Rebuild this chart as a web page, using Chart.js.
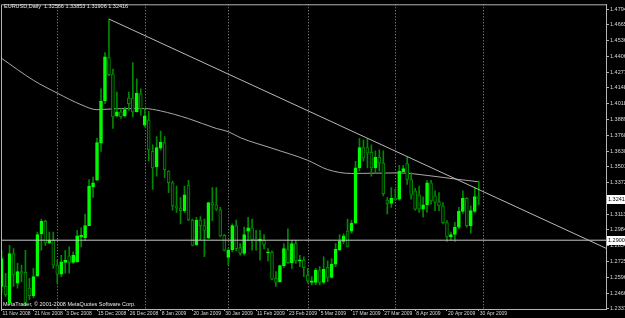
<!DOCTYPE html>
<html>
<head>
<meta charset="utf-8">
<script src="https://cdn.jsdelivr.net/npm/chart.js@4.4.1/dist/chart.umd.min.js"></script>
<style>
  html, body { margin: 0; padding: 0; background: #000; }
  #wrap { width: 625px; height: 318px; position: relative; }
</style>
</head>
<body>
<div id="wrap"><canvas id="eurusd"></canvas></div>
<script>
// EURUSD daily, 11 Nov 2008 .. 30 Apr 2009
const dateLabels = ['11 Nov 2008', '21 Nov 2008', '3 Dec 2008', '15 Dec 2008', '26 Dec 2008', '8 Jan 2009',
  '20 Jan 2009', '30 Jan 2009', '11 Feb 2009', '23 Feb 2009', '5 Mar 2009', '17 Mar 2009', '27 Mar 2009',
  '8 Apr 2009', '20 Apr 2009', '30 Apr 2009'];

const opens = [1.2521, 1.2521, 1.2386, 1.2791, 1.2548, 1.2642, 1.2637, 1.2507, 1.2445, 1.2610,
  1.2953, 1.3055, 1.2880, 1.2899, 1.2696, 1.2621, 1.2718, 1.2772, 1.2718, 1.2723,
  1.2926, 1.2920, 1.3020, 1.3339, 1.3393, 1.3695, 1.4041, 1.4397, 1.4262, 1.3919,
  1.3952, 1.3919, 1.4065, 1.4065, 1.3952, 1.4100, 1.3844, 1.3884, 1.3628, 1.3501,
  1.3655, 1.3701, 1.3466, 1.3371, 1.3182, 1.3163, 1.3142, 1.3352, 1.3066, 1.2864,
  1.3066, 1.3020, 1.2918, 1.3209, 1.3190, 1.3150, 1.2939, 1.2758, 1.2823, 1.3020,
  1.2839, 1.2791, 1.2974, 1.3001, 1.2912, 1.2893, 1.2899, 1.2796, 1.2801, 1.2588,
  1.2561, 1.2691, 1.2823, 1.2715, 1.2872, 1.2731, 1.2737, 1.2615, 1.2553, 1.2553,
  1.2650, 1.2553, 1.2677, 1.2594, 1.2704, 1.2823, 1.2891, 1.2974, 1.2974, 1.3042,
  1.3493, 1.3660, 1.3660, 1.3620, 1.3493, 1.3579, 1.3533, 1.3228, 1.3201, 1.3244,
  1.3236, 1.3460, 1.3528, 1.3398, 1.3304, 1.3271, 1.3155, 1.3190, 1.3371, 1.3263,
  1.3217, 1.3182, 1.3044, 1.2926, 1.2947, 1.3007, 1.3136, 1.3244, 1.3020, 1.3136,
  1.32566];
const highs = [1.2818, 1.2629, 1.2858, 1.2831, 1.2710, 1.2696, 1.2818, 1.2588, 1.2669, 1.2966,
  1.3074, 1.3066, 1.2966, 1.2966, 1.2737, 1.2777, 1.2818, 1.2845, 1.2804, 1.2980,
  1.3001, 1.3115, 1.3398, 1.3417, 1.3736, 1.4141, 1.4438, 1.4713, 1.4303, 1.4114,
  1.3979, 1.3992, 1.4114, 1.4357, 1.4222, 1.4141, 1.3979, 1.3957, 1.3682, 1.3749,
  1.3795, 1.3749, 1.3471, 1.3385, 1.3344, 1.3250, 1.3344, 1.3390, 1.3074, 1.3088,
  1.3093, 1.3074, 1.3209, 1.3331, 1.3331, 1.3169, 1.2947, 1.2831, 1.3034, 1.3066,
  1.2872, 1.3007, 1.3088, 1.3074, 1.2980, 1.2980, 1.2947, 1.2831, 1.2812, 1.2642,
  1.2696, 1.2872, 1.2993, 1.2899, 1.2899, 1.2777, 1.2764, 1.2669, 1.2602, 1.2669,
  1.2683, 1.2764, 1.2731, 1.2750, 1.2872, 1.2947, 1.2953, 1.3074, 1.3066, 1.3547,
  1.3736, 1.3722, 1.3736, 1.3682, 1.3633, 1.3641, 1.3633, 1.3250, 1.3331, 1.3317,
  1.3514, 1.3514, 1.3579, 1.3452, 1.3325, 1.3344, 1.3255, 1.3390, 1.3390, 1.3304,
  1.3290, 1.3209, 1.3061, 1.2966, 1.3047, 1.3169, 1.3304, 1.3250, 1.3182, 1.3331,
  1.33853];
const lows = [1.2467, 1.2440, 1.2372, 1.2521, 1.2507, 1.2561, 1.2364, 1.2413, 1.2426, 1.2602,
  1.2818, 1.2858, 1.2872, 1.2669, 1.2548, 1.2602, 1.2629, 1.2629, 1.2710, 1.2718,
  1.2845, 1.2899, 1.3020, 1.3250, 1.3390, 1.3628, 1.4019, 1.4249, 1.3817, 1.3911,
  1.3898, 1.3911, 1.3965, 1.3911, 1.3952, 1.3925, 1.3830, 1.3547, 1.3317, 1.3425,
  1.3641, 1.3412, 1.3290, 1.3147, 1.3128, 1.3034, 1.3128, 1.3061, 1.2853, 1.2858,
  1.2904, 1.2764, 1.2912, 1.3061, 1.3142, 1.2926, 1.2812, 1.2696, 1.2804, 1.2812,
  1.2777, 1.2777, 1.2899, 1.2818, 1.2818, 1.2737, 1.2831, 1.2731, 1.2575, 1.2521,
  1.2553, 1.2677, 1.2710, 1.2669, 1.2710, 1.2683, 1.2602, 1.2548, 1.2534, 1.2534,
  1.2534, 1.2542, 1.2561, 1.2588, 1.2683, 1.2812, 1.2872, 1.2845, 1.2958, 1.3034,
  1.3466, 1.3547, 1.3493, 1.3425, 1.3452, 1.3466, 1.3263, 1.3115, 1.3169, 1.3228,
  1.3228, 1.3452, 1.3358, 1.3236, 1.3147, 1.3128, 1.3088, 1.3128, 1.3196, 1.3142,
  1.3142, 1.3034, 1.2890, 1.2899, 1.2890, 1.2993, 1.3120, 1.3007, 1.2958, 1.3128,
  1.31906];
const closes = [1.2750, 1.2453, 1.2791, 1.2615, 1.2642, 1.2629, 1.2372, 1.2445, 1.2602, 1.2947,
  1.3055, 1.2880, 1.2899, 1.2696, 1.2621, 1.2723, 1.2737, 1.2718, 1.2777, 1.2936,
  1.2939, 1.3020, 1.3344, 1.3371, 1.3701, 1.4041, 1.4403, 1.4257, 1.3911, 1.3952,
  1.3911, 1.3971, 1.4019, 1.3952, 1.4106, 1.3979, 1.3919, 1.3641, 1.3493, 1.3660,
  1.3703, 1.3479, 1.3371, 1.3182, 1.3163, 1.3142, 1.3271, 1.3066, 1.2858, 1.3066,
  1.3020, 1.2980, 1.3209, 1.3190, 1.3155, 1.2936, 1.2818, 1.2818, 1.3020, 1.2831,
  1.2791, 1.2947, 1.3001, 1.2904, 1.2893, 1.2909, 1.2864, 1.2801, 1.2580, 1.2553,
  1.2691, 1.2831, 1.2715, 1.2872, 1.2731, 1.2737, 1.2675, 1.2567, 1.2567, 1.2656,
  1.2553, 1.2661, 1.2594, 1.2704, 1.2826, 1.2891, 1.2936, 1.2850, 1.3039, 1.3493,
  1.3660, 1.3574, 1.3614, 1.3493, 1.3579, 1.3533, 1.3282, 1.3201, 1.3244, 1.3233,
  1.3466, 1.3487, 1.3398, 1.3269, 1.3155, 1.3155, 1.3190, 1.3371, 1.3223, 1.3209,
  1.3182, 1.3044, 1.2926, 1.2947, 1.3007, 1.3136, 1.3244, 1.3020, 1.3142, 1.3258,
  1.32416];

// moving average, read at a handful of bars
const maBars = [0, 8, 14, 20, 24, 30, 36, 40, 47, 54, 57, 60, 68, 77, 82, 88, 100, 107, 115, 120];
const maValues = [1.4391, 1.4211, 1.4106, 1.4011, 1.3970, 1.3979, 1.3979, 1.3960, 1.3897, 1.3816,
  1.3790, 1.3741, 1.3654, 1.3555, 1.3479, 1.3447, 1.3452, 1.3431, 1.3398, 1.3379];

// trend line from the December high, and the horizontal level
const trendBars = [27, 152];
const trendValues = [1.4713, 1.2834];
const levelValue = 1.29;

const yTicks = [1.4794, 1.4665, 1.4536, 1.4406, 1.4277, 1.4148, 1.4018, 1.3889, 1.3760, 1.3630,
  1.3501, 1.3372, 1.3242, 1.3113, 1.2984, 1.2854, 1.2725, 1.2596, 1.2466, 1.2337];
const monthStarts = [14, 36, 57, 77, 99, 121];

const FONT = "'Liberation Sans', sans-serif";
const FSIZE = 5.5;
const isBull = i => closes[i] >= opens[i];

const wickData = opens.map((o, i) => ({ x: i, y: [lows[i], highs[i]] }));
const bodyData = opens.map((o, i) => ({ x: i, y: [Math.min(o, closes[i]), Math.max(o, closes[i])] }));

// MetaTrader look: month separators, frame, header text, price boxes
const mtPlugin = {
  id: 'mt',
  beforeDatasetsDraw(chart) {
    const { ctx, chartArea: a, scales: { x } } = chart;
    ctx.save();
    ctx.strokeStyle = '#9a9a9a';
    ctx.lineWidth = 1;
    ctx.setLineDash([1, 2]);
    monthStarts.forEach(m => {
      const px = Math.round(x.getPixelForValue(m)) + 0.5;
      ctx.beginPath();
      ctx.moveTo(px, a.top);
      ctx.lineTo(px, a.bottom);
      ctx.stroke();
    });
    ctx.restore();
  },
  afterDraw(chart) {
    const { ctx, chartArea: a, scales: { y } } = chart;
    ctx.save();
    ctx.strokeStyle = '#b4b4b4';
    ctx.lineWidth = 1;
    ctx.beginPath();
    ctx.moveTo(a.left + 0.5, a.bottom);
    ctx.lineTo(a.left + 0.5, a.top + 0.5);
    ctx.lineTo(a.right, a.top + 0.5);
    ctx.stroke();

    ctx.fillStyle = '#e8e8e8';
    ctx.font = FSIZE + 'px ' + FONT;
    ctx.textBaseline = 'middle';
    ctx.textAlign = 'left';
    ctx.fillText('EURUSD,Daily  1.32566 1.33853 1.31906 1.32416', 4, 6);
    ctx.fillText('MetaTrader, \u00a9 2001-2008 MetaQuotes Software Corp.', 3, 304);

    [[closes[closes.length - 1], '1.32416'], [levelValue, '1.29000']].forEach(([v, t]) => {
      const py = Math.round(y.getPixelForValue(v));
      ctx.fillStyle = '#ffffff';
      ctx.fillRect(607, py - 4, 18, 9);
      ctx.fillStyle = '#000000';
      ctx.fillText(t, 608, py + 0.5);
    });
    ctx.restore();
  }
};

new Chart(document.getElementById('eurusd'), {
  data: {
    datasets: [
      {
        type: 'line', data: maBars.map((b, k) => ({ x: b, y: maValues[k] })),
        borderColor: '#a8a8a8', borderWidth: 1, pointRadius: 0, cubicInterpolationMode: 'monotone', order: 3
      },
      {
        type: 'bar', data: wickData, grouped: false, barThickness: 1,
        backgroundColor: '#008800', borderWidth: 0, order: 2
      },
      {
        type: 'bar', data: bodyData, grouped: false, barThickness: 3, minBarLength: 1,
        backgroundColor: ctx => isBull(ctx.dataIndex) ? '#00ff00' : '#001800',
        borderColor: ctx => isBull(ctx.dataIndex) ? '#00ff00' : '#008a00',
        borderWidth: 1, borderSkipped: false, order: 1
      },
      {
        type: 'line', data: trendBars.map((b, k) => ({ x: b, y: trendValues[k] })),
        borderColor: '#b8b8b8', borderWidth: 1, pointRadius: 0, order: 0
      },
      {
        type: 'line', data: [{ x: -1, y: levelValue }, { x: 153, y: levelValue }],
        borderColor: '#c8c8c8', borderWidth: 1, pointRadius: 0, order: 0
      }
    ]
  },
  options: {
    responsive: true,
    maintainAspectRatio: false,
    animation: false,
    devicePixelRatio: 1,
    layout: { padding: { left: 1, top: 1, right: 0, bottom: 0 } },
    plugins: { legend: { display: false }, tooltip: { enabled: false } },
    scales: {
      x: {
        type: 'linear', min: -0.15, max: 152, offset: false,
        afterFit: s => { s.height = 9; },
        afterBuildTicks: s => { s.ticks = dateLabels.map((d, k) => ({ value: k * 8 })); },
        ticks: {
          callback: (v, i) => dateLabels[i], align: 'start', maxRotation: 0, autoSkip: false,
          color: '#d8d8d8', font: { size: 5, family: FONT }, padding: 0, labelOffset: 1
        },
        grid: { drawOnChartArea: false, offset: false, color: '#b4b4b4', tickLength: 2 },
        border: { color: '#b4b4b4' }
      },
      y: {
        position: 'right', min: 1.2336, max: 1.4834,
        afterFit: s => { s.width = 19; },
        afterBuildTicks: s => { s.ticks = yTicks.map(v => ({ value: v })); },
        ticks: {
          callback: v => v.toFixed(5), autoSkip: false,
          color: '#d8d8d8', font: { size: FSIZE, family: FONT }, padding: 1
        },
        grid: { drawOnChartArea: false, color: '#b4b4b4', tickLength: 3 },
        border: { color: '#b4b4b4' }
      }
    }
  },
  plugins: [mtPlugin]
});
</script>
</body>
</html>
